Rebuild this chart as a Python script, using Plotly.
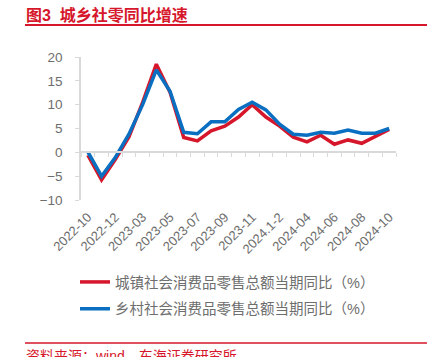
import plotly.graph_objects as go

categories = ["2022-10", "2022-11", "2022-12", "2023-1-2", "2023-03", "2023-04", "2023-05",
              "2023-06", "2023-07", "2023-08", "2023-09", "2023-10", "2023-11", "2023-12",
              "2024.1-2", "2024-03", "2024-04", "2024-05", "2024-06", "2024-07", "2024-08",
              "2024-09", "2024-10"]
urban = [-0.6, -5.8, -1.5, 3.2, 10.5, 18.5, 12.6, 3.1, 2.4, 4.5, 5.5, 7.4, 10.0, 7.4,
         5.5, 3.2, 2.2, 3.6, 1.7, 2.6, 1.9, 3.3, 4.8]
rural = [0.1, -5.0, -1.1, 3.8, 10.0, 17.3, 12.8, 4.2, 3.9, 6.4, 6.4, 9.0, 10.5, 8.9,
         5.9, 3.8, 3.6, 4.2, 4.0, 4.7, 4.0, 4.0, 5.0]
label_cats = categories[::2]
name_urban = "城镇社会消费品零售总额当期同比（%）"
name_rural = "乡村社会消费品零售总额当期同比（%）"
title_text = "<b>图3  城乡社零同比增速</b>"
source_text = "资料来源：wind，东海证券研究所"

W, H = 431, 357
L, R, T, B = 81, 35, 57, 157
RED = "#d6172b"
BLUE = "#0a6fc1"
GRAY = "#6e6e6e"
AXIS = "#d9d9d9"
FONT = "Arial, Liberation Sans, Noto Sans CJK SC, sans-serif"

def px_x(px):
    return (px - L) / (W - L - R)

def px_y(py):
    return (H - B - py) / (H - T - B)

fig = go.Figure()
fig.add_trace(go.Scatter(x=categories, y=urban, mode="lines", name=name_urban,
                         line=dict(color=RED, width=3.5), legendgroup="a"))
fig.add_trace(go.Scatter(x=categories, y=rural, mode="lines", name=name_rural,
                         line=dict(color=BLUE, width=3.5), legendgroup="b"))
# invisible helper trace carrying the zero-level tick axis
fig.add_trace(go.Scatter(x=categories, y=rural, mode="lines", xaxis="x2",
                         line=dict(width=0, color="rgba(0,0,0,0)"), showlegend=False,
                         hoverinfo="skip"))

fig.update_layout(
    width=W, height=H,
    margin=dict(l=L, r=R, t=T, b=B, autoexpand=False),
    paper_bgcolor="white", plot_bgcolor="white",
    font=dict(family=FONT, color=GRAY),
    showlegend=True,
    legend=dict(x=75 / W, xref="container", xanchor="left",
                y=1 - 266 / H, yref="container", yanchor="top",
                font=dict(size=14.5, color=GRAY), tracegroupgap=5,
                bgcolor="rgba(0,0,0,0)"),
    xaxis=dict(type="category", categoryorder="array", categoryarray=categories,
               anchor="y", side="bottom", showline=False,
               tickmode="array", tickvals=label_cats, ticktext=label_cats,
               tickangle=-45, ticks="", showgrid=False, zeroline=False,
               tickfont=dict(size=13, color=GRAY), ticklabelstandoff=6,
               range=[-0.5, len(categories) - 0.5]),
    xaxis2=dict(type="category", categoryorder="array", categoryarray=categories,
                overlaying="x", matches="x", anchor="free", position=px_y(152.3),
                showline=True, linecolor=AXIS, linewidth=1.5, ticks="outside",
                tickson="boundaries", ticklen=4, tickcolor=AXIS, tickwidth=1,
                showticklabels=False, showgrid=False, zeroline=False, dtick=1),
    yaxis=dict(range=[-10, 20], dtick=5, tick0=0, showline=True, linecolor=AXIS,
               linewidth=1.5, ticks="outside", ticklen=4, tickcolor=AXIS,
               showgrid=False, zeroline=False, tickfont=dict(size=13.5, color=GRAY),
               ticklabelstandoff=10),
)

fig.add_annotation(text=title_text, xref="paper", yref="paper", x=px_x(24), y=px_y(4),
                   xanchor="left", yanchor="top", showarrow=False,
                   font=dict(size=16, color=RED, family=FONT))
fig.add_shape(type="line", xref="paper", yref="paper", x0=px_x(25), x1=px_x(427),
              y0=px_y(25), y1=px_y(25), line=dict(color=RED, width=2))
fig.add_shape(type="line", xref="paper", yref="paper", x0=px_x(25), x1=px_x(427),
              y0=px_y(343), y1=px_y(343), line=dict(color=RED, width=1.5))
fig.add_annotation(text=source_text, xref="paper", yref="paper", x=px_x(24), y=px_y(346),
                   xanchor="left", yanchor="top", showarrow=False,
                   font=dict(size=14, color=RED, family=FONT))

fig.write_html("out.html", config={"displayModeBar": False},
               post_script="document.body.style.margin='0';")
